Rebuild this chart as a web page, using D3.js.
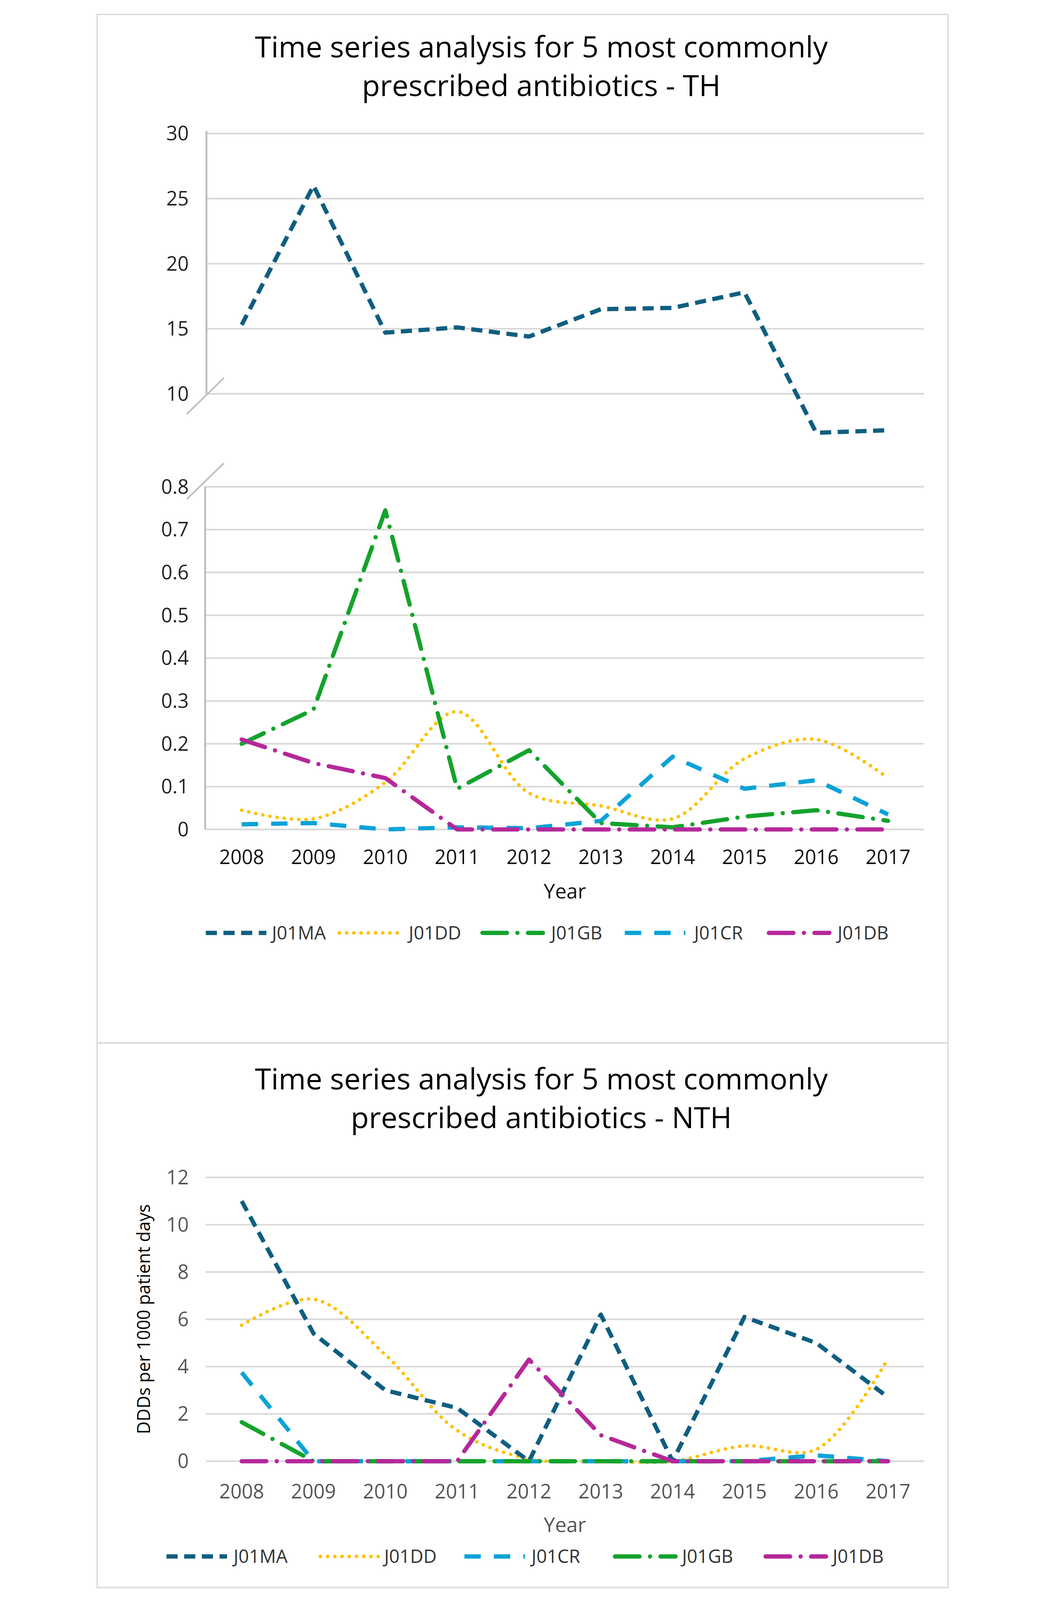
<!DOCTYPE html>
<html><head><meta charset="utf-8">
<script src="https://cdn.jsdelivr.net/npm/d3@7"></script>
<style>html,body{margin:0;padding:0;background:#fff;overflow:hidden}svg{display:block}text{font-family:"Open Sans",sans-serif}</style>
</head><body>
<script>
const years = ["2008","2009","2010","2011","2012","2013","2014","2015","2016","2017"];
// TH
const th_J01MA = [15.3,26,14.7,15.1,14.4,16.5,16.6,17.8,7.0,7.2];
const th_J01DD = [0.045,0.025,0.11,0.275,0.085,0.055,0.025,0.165,0.21,0.12];
const th_J01GB = [0.20,0.28,0.745,0.095,0.185,0.015,0.005,0.03,0.045,0.02];
const th_J01CR = [0.012,0.015,0.0,0.005,0.003,0.02,0.17,0.095,0.115,0.035];
const th_J01DB = [0.21,0.155,0.12,0,0,0,0,0,0,0];
// NTH
const nth_J01MA = [11,5.4,3.0,2.25,0,6.2,0,6.1,5.0,2.7];
const nth_J01DD = [5.75,6.85,4.5,1.3,0.1,0,0,0.65,0.5,4.35];
const nth_J01CR = [3.75,0,0,0,0,0,0,0,0.25,0];
const nth_J01GB = [1.65,0,0,0,0,0,0,0,0,0];
const nth_J01DB = [0,0,0,0,4.3,1.1,0,0,0,0];
const topTicks = [10,15,20,25,30];
const lowTicks = [0,0.1,0.2,0.3,0.4,0.5,0.6,0.7,0.8];
const nthTicks = [0,2,4,6,8,10,12];

const styles = {
  J01MA:{c:"#0f5e80",w:13,d:"34,20",cap:"butt",curve:false},
  J01DD:{c:"#ffc000",w:11,d:"0.1,22",cap:"round",curve:true},
  J01GB:{c:"#14a32c",w:13,d:"75,32,0.1,32",cap:"round",curve:false},
  J01CR:{c:"#0aa2d8",w:13,d:"50,40",cap:"butt",curve:false},
  J01DB:{c:"#b5289a",w:13,d:"75,32,0.1,32",cap:"round",curve:false}
};

const W=2675,H=4888;
const svg=d3.select("body").append("svg").attr("viewBox",`0 0 ${W} ${H}`)
  .attr("width","100vw").attr("height","100vh").attr("preserveAspectRatio","xMidYMin meet");
svg.append("rect").attr("x",38).attr("y",44).attr("width",2599).attr("height",3142).attr("fill","none").attr("stroke","#d9d9d9").attr("stroke-width",4);
svg.append("rect").attr("x",38).attr("y",3186).attr("width",2599).attr("height",1664).attr("fill","none").attr("stroke","#d9d9d9").attr("stroke-width",4);

const x=d3.scaleBand().domain(years).range([370,2564]);
const cx=d=>x(d)+x.bandwidth()/2;

function title(lines,y0){
  lines.forEach((t,i)=>svg.append("text").attr("x",1395).attr("y",y0+i*118).attr("text-anchor","middle").attr("font-size",90).attr("fill","#000").text(t));
}
function grid(y,ticks,fmt,color){
  const g=svg.append("g");
  ticks.forEach(t=>{
    g.append("line").attr("x1",370).attr("x2",2564).attr("y1",y(t)).attr("y2",y(t)).attr("stroke","#d9d9d9").attr("stroke-width",5);
    g.append("text").attr("x",318).attr("y",y(t)).attr("dy","0.35em").attr("text-anchor","end").attr("font-size",60).attr("fill",color).text(fmt(t));
  });
}
function line(y,vals,name){
  const s=styles[name];
  const gen=d3.line().x((d,i)=>cx(years[i])).y(d=>y(d));
  if(s.curve) gen.curve(d3.curveCatmullRom.alpha(0.5));
  svg.append("path").attr("d",gen(vals)).attr("fill","none").attr("stroke",s.c).attr("stroke-width",s.w)
    .attr("stroke-dasharray",s.d).attr("stroke-linecap",s.cap).attr("stroke-linejoin","round");
}
function xlabels(yy,color){
  years.forEach(t=>svg.append("text").attr("x",cx(t)).attr("y",yy).attr("text-anchor","middle").attr("font-size",60).attr("fill",color).text(t));
}
function legend(order,sw,tx,yy){
  order.forEach((n,i)=>{
    const s=styles[n];
    svg.append("line").attr("x1",sw[i]).attr("x2",sw[i]+185).attr("y1",yy).attr("y2",yy).attr("stroke",s.c).attr("stroke-width",s.w)
      .attr("stroke-dasharray",s.d).attr("stroke-linecap",s.cap);
    svg.append("text").attr("x",tx[i]).attr("y",yy).attr("dy","0.35em").attr("font-size",56).attr("fill","#333").text(n);
  });
}
function brk(yy){
  svg.append("line").attr("x1",312).attr("x2",425).attr("y1",yy+55).attr("y2",yy-55).attr("stroke","#bfbfbf").attr("stroke-width",5);
}

// ---- TH ----
title(["Time series analysis for 5 most commonly","prescribed antibiotics - TH"],175);
const yTop=d3.scaleLinear().domain([10,30]).range([1203,408]);
const yLow=d3.scaleLinear().domain([0,0.8]).range([2534,1487]);
grid(yTop,topTicks,d=>d,"#222");
grid(yLow,lowTicks,d=>d,"#222");
svg.append("line").attr("x1",372).attr("x2",372).attr("y1",400).attr("y2",1203).attr("stroke","#bfbfbf").attr("stroke-width",6);
svg.append("line").attr("x1",368).attr("x2",368).attr("y1",1487).attr("y2",2534).attr("stroke","#bfbfbf").attr("stroke-width",6);
brk(1210); brk(1470);
line(yTop,th_J01MA,"J01MA");
line(yLow,th_J01DD,"J01DD");
line(yLow,th_J01CR,"J01CR");
line(yLow,th_J01GB,"J01GB");
line(yLow,th_J01DB,"J01DB");
xlabels(2640,"#111");
svg.append("text").attr("x",1467).attr("y",2745).attr("text-anchor","middle").attr("font-size",62).attr("fill","#111").text("Year");
legend(["J01MA","J01DD","J01GB","J01CR","J01DB"],[370,778,1215,1650,2090],[572,990,1425,1862,2300],2850);

// ---- NTH ----
title(["Time series analysis for 5 most commonly","prescribed antibiotics - NTH"],3328);
const yN=d3.scaleLinear().domain([0,12]).range([4464,3597]);
grid(yN,nthTicks,d=>d,"#555");
line(yN,nth_J01DD,"J01DD");
line(yN,nth_J01MA,"J01MA");
line(yN,nth_J01CR,"J01CR");
line(yN,nth_J01GB,"J01GB");
line(yN,nth_J01DB,"J01DB");
xlabels(4578,"#555");
svg.append("text").attr("x",1467).attr("y",4680).attr("text-anchor","middle").attr("font-size",62).attr("fill","#555").text("Year");
svg.append("text").attr("transform","translate(200,4030) rotate(-90)").attr("text-anchor","middle").attr("font-size",54).attr("font-family","DejaVu Sans").attr("fill","#000").text("DDDs per 1000 patient days");
legend(["J01MA","J01DD","J01CR","J01GB","J01DB"],[250,720,1160,1620,2080],[455,915,1365,1825,2285],4755);
</script>
</body></html>
